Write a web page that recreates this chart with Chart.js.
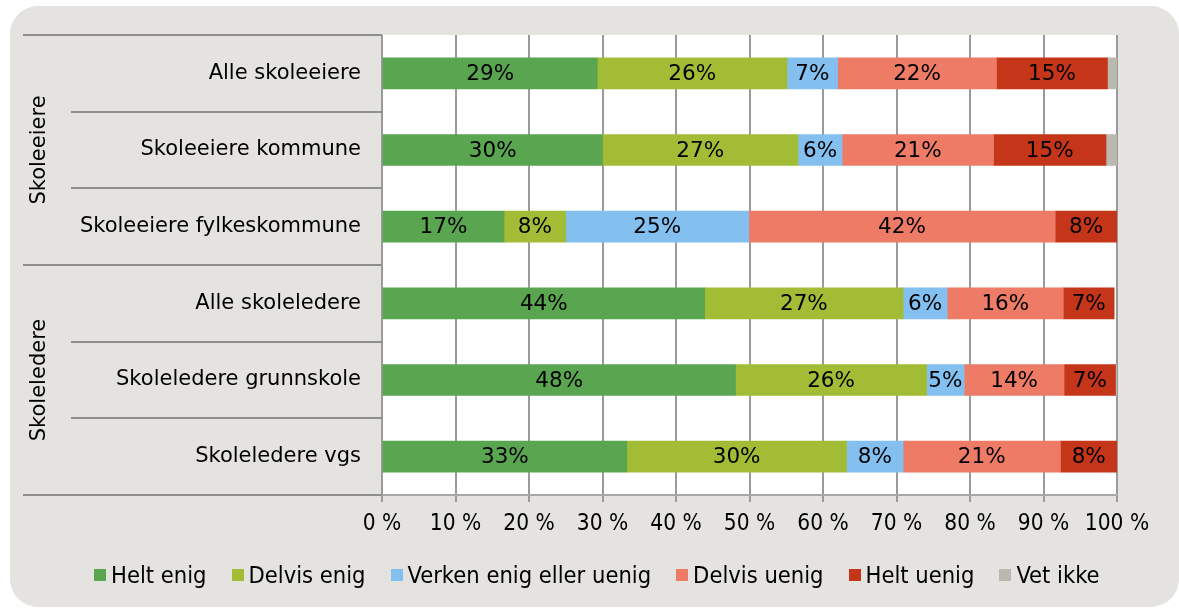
<!DOCTYPE html>
<html>
<head>
<meta charset="utf-8">
<script src="https://cdn.jsdelivr.net/npm/chart.js@4.4.1/dist/chart.umd.min.js"></script>
<style>
  html, body { margin: 0; padding: 0; background: #ffffff; }
  #wrap { position: relative; width: 1179px; height: 608px; overflow: hidden; }
  #legend { position: absolute; left: 94px; top: 561px; display: flex; align-items: center;
            font-family: 'DejaVu Sans Condensed', 'DejaVu Sans', sans-serif; font-stretch: condensed;
            font-size: 23.5px; color: #000; white-space: nowrap; }
  .item { display: flex; align-items: center; margin-right: 25px; }
  .box { width: 12px; height: 12px; margin-right: 5px; }
</style>
</head>
<body>
<div id="wrap">
  <canvas id="c" width="1179" height="608"></canvas>
  <div id="legend"></div>
</div>
<script>
// ---- data ----
const categories = ['Alle skoleeiere', 'Skoleeiere kommune', 'Skoleeiere fylkeskommune',
                    'Alle skoleledere', 'Skoleledere grunnskole', 'Skoleledere vgs'];
const groupNames = ['Skoleeiere', 'Skoleledere'];
const groupStart = [0, 3];
const groupEnd = [2, 5];
const seriesNames = ['Helt enig', 'Delvis enig', 'Verken enig eller uenig', 'Delvis uenig', 'Helt uenig', 'Vet ikke'];
const heltEnig    = [29.3, 30.0, 16.6, 43.9, 48.1, 33.3];
const delvisEnig  = [25.8, 26.6,  8.4, 27.0, 26.0, 29.9];
const verken      = [ 6.9,  6.0, 24.9,  6.0,  5.1,  7.7];
const delvisUenig = [21.6, 20.6, 41.7, 15.8, 13.6, 21.4];
const heltUenig   = [15.1, 15.3,  8.4,  6.9,  7.0,  7.7];
const vetIkke     = [ 1.3,  1.5,  0.0,  0.0,  0.2,  0.0];
const xTickValues = [0, 10, 20, 30, 40, 50, 60, 70, 80, 90, 100];
const showValueLabels = [true, true, true, true, true, false];

const colors = ['#5aa550', '#a2bd35', '#83c0f0', '#ed7b66', '#c43519', '#b9b9b0'];
const seriesData = [heltEnig, delvisEnig, verken, delvisUenig, heltUenig, vetIkke];

// ---- legend (HTML) ----
const legendEl = document.getElementById('legend');
seriesNames.forEach((n, i) => {
  const it = document.createElement('div'); it.className = 'item';
  const b = document.createElement('div'); b.className = 'box'; b.style.background = colors[i];
  const t = document.createElement('span'); t.textContent = n;
  it.appendChild(b); it.appendChild(t); legendEl.appendChild(it);
});

const bgPlugin = {
  id: 'bg',
  beforeDraw(chart) {
    const ctx = chart.ctx, a = chart.chartArea;
    ctx.save();
    ctx.fillStyle = '#ffffff';
    ctx.fillRect(0, 0, chart.width, chart.height);
    ctx.fillStyle = '#e4e3df';
    ctx.beginPath();
    ctx.roundRect(10, 6, 1169, 601, 28);
    ctx.fill();
    ctx.fillStyle = '#ffffff';
    ctx.fillRect(a.left, a.top, a.right - a.left, a.bottom - a.top);
    ctx.restore();
  },
  afterDraw(chart) {
    const ctx = chart.ctx, a = chart.chartArea, y = chart.scales.y;
    ctx.save();
    ctx.strokeStyle = '#8e8e8e';
    ctx.lineWidth = 2;
    const n = categories.length;
    const bounds = [a.top];
    for (let i = 0; i < n - 1; i++) bounds.push((y.getPixelForValue(i) + y.getPixelForValue(i + 1)) / 2);
    bounds.push(a.bottom);
    bounds.forEach((b, k) => {
      const isGroup = k === 0 || k === n || groupStart.includes(k);
      ctx.beginPath();
      ctx.moveTo(isGroup ? 23 : 71, Math.round(b));
      ctx.lineTo(a.left, Math.round(b));
      ctx.stroke();
    });
    // group labels
    ctx.fillStyle = '#000';
    ctx.font = '21px "DejaVu Sans"';
    ctx.textAlign = 'center';
    ctx.textBaseline = 'middle';
    groupNames.forEach((g, gi) => {
      const top = bounds[groupStart[gi]], bot = bounds[groupEnd[gi] + 1];
      ctx.save();
      ctx.translate(40, (top + bot) / 2);
      ctx.rotate(-Math.PI / 2);
      ctx.fillText(g, 0, 0);
      ctx.restore();
    });
    ctx.restore();
  },
  afterDatasetsDraw(chart) {
    const ctx = chart.ctx;
    ctx.save();
    ctx.fillStyle = '#000';
    ctx.font = '21.5px "DejaVu Sans"';
    ctx.textAlign = 'center';
    ctx.textBaseline = 'middle';
    chart.data.datasets.forEach((ds, di) => {
      if (!showValueLabels[di]) return;
      const meta = chart.getDatasetMeta(di);
      meta.data.forEach((bar, i) => {
        const v = ds.data[i];
        if (!v) return;
        const p = bar.getProps(['x', 'y', 'base'], true);
        ctx.fillText(Math.round(v) + '%', (p.x + p.base) / 2, p.y + 1);
      });
    });
    ctx.restore();
  }
};

new Chart(document.getElementById('c'), {
  type: 'bar',
  data: {
    labels: categories,
    datasets: seriesNames.map((n, i) => ({
      label: n, data: seriesData[i], backgroundColor: colors[i],
      borderWidth: 0, barThickness: 31
    }))
  },
  options: {
    indexAxis: 'y',
    responsive: false,
    animation: false,
    devicePixelRatio: 1,
    layout: { padding: { left: 0, right: 62, top: 35, bottom: 63 } },
    plugins: { legend: { display: false }, tooltip: { enabled: false } },
    scales: {
      x: {
        stacked: true, min: 0, max: 100,
        afterBuildTicks(scale) { scale.ticks = xTickValues.map(v => ({ value: v })); },
        afterFit(scale) { scale.height = 50; },
        grid: { color: '#9a9a9a', lineWidth: 2, drawTicks: true, tickLength: 7 },
        border: { display: true, color: '#a8a8a8', width: 2 },
        ticks: {
          color: '#000', padding: 9, maxRotation: 0, autoSkip: false,
          font: { family: '"DejaVu Sans Condensed", "Liberation Sans Narrow", "DejaVu Sans"', size: 22.5 },
          callback: v => v + ' %'
        }
      },
      y: {
        stacked: true,
        afterFit(scale) { scale.width = 382; },
        grid: { display: false },
        border: { display: false },
        ticks: { color: '#000', padding: 13, font: { family: '"DejaVu Sans"', size: 21 } }
      }
    }
  },
  plugins: [bgPlugin]
});
</script>
</body>
</html>
